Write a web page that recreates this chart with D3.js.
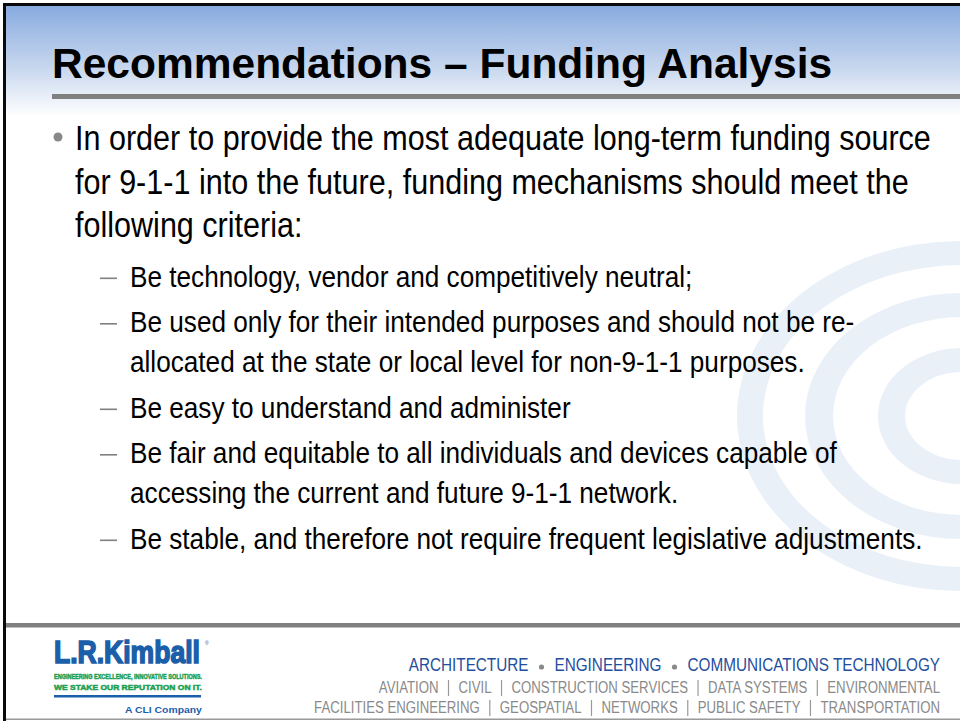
<!DOCTYPE html>
<html>
<head>
<meta charset="utf-8">
<script src="https://cdn.jsdelivr.net/npm/d3@7/dist/d3.min.js"></script>
<style>
  html, body { margin: 0; padding: 0; background: #fff; }
  svg { display: block; }
</style>
</head>
<body>
<svg id="slide" width="960" height="721"></svg>
<script>
// ---- content ----
const titleText = "Recommendations \u2013 Funding Analysis";
const mainLines = [
  "In order to provide the most adequate long-term funding source",
  "for 9-1-1 into the future, funding mechanisms should meet the",
  "following criteria:"
];
const subItems = [
  ["Be technology, vendor and competitively neutral;"],
  ["Be used only for their intended purposes and should not be re-",
   "allocated at the state or local level for non-9-1-1 purposes."],
  ["Be easy to understand and administer"],
  ["Be fair and equitable to all individuals and devices capable of",
   "accessing the current and future 9-1-1 network."],
  ["Be stable, and therefore not require frequent legislative adjustments."]
];
const footerDivisions = ["ARCHITECTURE", "ENGINEERING", "COMMUNICATIONS TECHNOLOGY"];
const footerServices1 = ["AVIATION", "CIVIL", "CONSTRUCTION SERVICES", "DATA SYSTEMS", "ENVIRONMENTAL"];
const footerServices2 = ["FACILITIES ENGINEERING", "GEOSPATIAL", "NETWORKS", "PUBLIC SAFETY", "TRANSPORTATION"];
const logoName = "L.R.Kimball";
const logoTagline = ["ENGINEERING EXCELLENCE, INNOVATIVE SOLUTIONS.", "WE STAKE OUR REPUTATION ON IT."];
const logoSub = "A CLI Company";

// ---- drawing ----
const svg = d3.select("#slide");
const W = 960, H = 721;
const sans = "'Liberation Sans',Arial,Helvetica,sans-serif";
const mainK = 0.873;   // horizontal condensation emulating Arial Narrow
const subK = 0.887;
const divK = 0.85;
const svcK = 0.81;

// text condensed horizontally, anchored at x
function narrowText(parent, x, y, size, k, anchor) {
  return parent.append("g").attr("transform", `translate(${x},${y}) scale(${k},1)`)
    .append("text").attr("x", 0).attr("y", 0)
    .attr("text-anchor", anchor || "start")
    .attr("font-family", sans).attr("font-size", size);
}
// text squeezed to a given width
function widthText(parent, x, y, size, width) {
  const g = parent.append("g");
  const t = g.append("text").attr("x", 0).attr("y", 0)
    .attr("font-family", sans).attr("font-size", size);
  return {g, t, done() {
    const k = width / t.node().getComputedTextLength();
    g.attr("transform", `translate(${x},${y}) scale(${k},1)`);
    return t;
  }};
}

const defs = svg.append("defs");
const grad = defs.append("linearGradient").attr("id", "hdr")
  .attr("x1", 0).attr("y1", 0).attr("x2", 0).attr("y2", 1);
grad.append("stop").attr("offset", "0%").attr("stop-color", "#88abdf");
grad.append("stop").attr("offset", "55%").attr("stop-color", "#c6d6ee");
grad.append("stop").attr("offset", "100%").attr("stop-color", "#ffffff");

svg.append("rect").attr("width", W).attr("height", H).attr("fill", "#ffffff");
svg.append("rect").attr("x", 6).attr("y", 6).attr("width", W - 6).attr("height", 110).attr("fill", "url(#hdr)");

// concentric decorative rings
function ellipse(cx, cy, rx, ry) {
  return `M${cx - rx},${cy}a${rx},${ry} 0 1,0 ${2 * rx},0a${rx},${ry} 0 1,0 ${-2 * rx},0Z`;
}
const ringCx = 962, ringCy = 416;
const rings = [
  {o: [225, 175], i: [199, 151]},
  {o: [157, 123], i: [129, 99]},
  {o: [84, 68], i: [57, 44]}
];
svg.append("g").selectAll("path").data(rings).join("path")
  .attr("d", d => ellipse(ringCx, ringCy, d.o[0], d.o[1]) + ellipse(ringCx, ringCy, d.i[0], d.i[1]))
  .attr("fill-rule", "evenodd")
  .attr("fill", "#e9f0f8");

// frame lines
svg.append("rect").attr("x", 3).attr("y", 3).attr("width", W - 3).attr("height", 3).attr("fill", "#0a0a0a");
svg.append("rect").attr("x", 3).attr("y", 3).attr("width", 3).attr("height", H - 3).attr("fill", "#0a0a0a");

// title
svg.append("text").attr("x", 52).attr("y", 78)
  .attr("font-family", sans).attr("font-weight", "bold").attr("font-size", 42.5)
  .attr("fill", "#000").text(titleText);
svg.append("rect").attr("x", 52).attr("y", 94).attr("width", W - 52).attr("height", 5).attr("fill", "#808080");

// main bullet
const mainY = d3.scaleLinear().domain([0, 1]).range([150, 193.5]);
svg.append("circle").attr("cx", 58).attr("cy", 137).attr("r", 4.5).attr("fill", "#888888");
mainLines.forEach((t, i) => {
  narrowText(svg, 75, mainY(i), 35, mainK).attr("fill", "#000").text(t);
});

// sub bullets
let y = 286.5;
subItems.forEach(lines => {
  svg.append("rect").attr("x", 100).attr("y", y - 9).attr("width", 17).attr("height", 1.6).attr("fill", "#808080");
  lines.forEach((ln, j) => {
    narrowText(svg, 130, y + j * 40, 29.5, subK).attr("fill", "#000").text(ln);
  });
  y += (lines.length - 1) * 40 + 45.5;
});

// footer
svg.append("rect").attr("x", 6).attr("y", 623).attr("width", W - 6).attr("height", 4.5).attr("fill", "#808080");
svg.append("rect").attr("x", 6).attr("y", 718.5).attr("width", W - 6).attr("height", 1.5).attr("fill", "#9a9a9a");

// right-aligned word runs with drawn separators
function rightRun(words, yy, size, k, color, gap, drawSep) {
  let x = 940;
  for (let i = words.length - 1; i >= 0; i--) {
    const t = narrowText(svg, x, yy, size, k, "end").attr("fill", color).text(words[i]);
    x -= t.node().getComputedTextLength() * k;
    if (i > 0) {
      drawSep(x - gap, yy);
      x -= 2 * gap;
    }
  }
}
rightRun(footerDivisions, 671, 18, divK, "#1f4f9e", 13,
  (cx, yy) => svg.append("circle").attr("cx", cx).attr("cy", yy - 4).attr("r", 2.6).attr("fill", "#8a8a8a"));
const pipe = (cx, yy) => svg.append("rect").attr("x", cx - 0.6).attr("y", yy - 13).attr("width", 1.2).attr("height", 16).attr("fill", "#9a9a9a");
rightRun(footerServices1, 693, 16.3, svcK, "#8a8a8a", 10, pipe);
rightRun(footerServices2, 713, 16.3, svcK, "#8a8a8a", 10, pipe);

// logo
const lg = svg.append("g");
const nm = widthText(lg, 54, 663, 32, 146);
nm.t.attr("font-weight", "bold").attr("fill", "#1b5ea9").attr("stroke", "#1b5ea9").attr("stroke-width", 1.6).text(logoName);
nm.done();
lg.append("text").attr("x", 205).attr("y", 645).attr("font-family", sans).attr("font-size", 5)
  .attr("fill", "#1b5ea9").text("\u00AE");
logoTagline.forEach((t, i) => {
  const tg = widthText(lg, 54, 678.5 + i * 11, 8, 148);
  tg.t.attr("font-weight", "bold").attr("fill", "#1aa052").attr("stroke", "#1aa052").attr("stroke-width", 0.5).text(t);
  tg.done();
});
lg.append("rect").attr("x", 54).attr("y", 695).attr("width", 147).attr("height", 2.5).attr("fill", "#1b5ea9");
const cs = widthText(lg, 125, 713, 9.5, 77);
cs.t.attr("font-weight", "bold").attr("fill", "#1b5ea9").text(logoSub);
cs.done();
</script>
</body>
</html>
